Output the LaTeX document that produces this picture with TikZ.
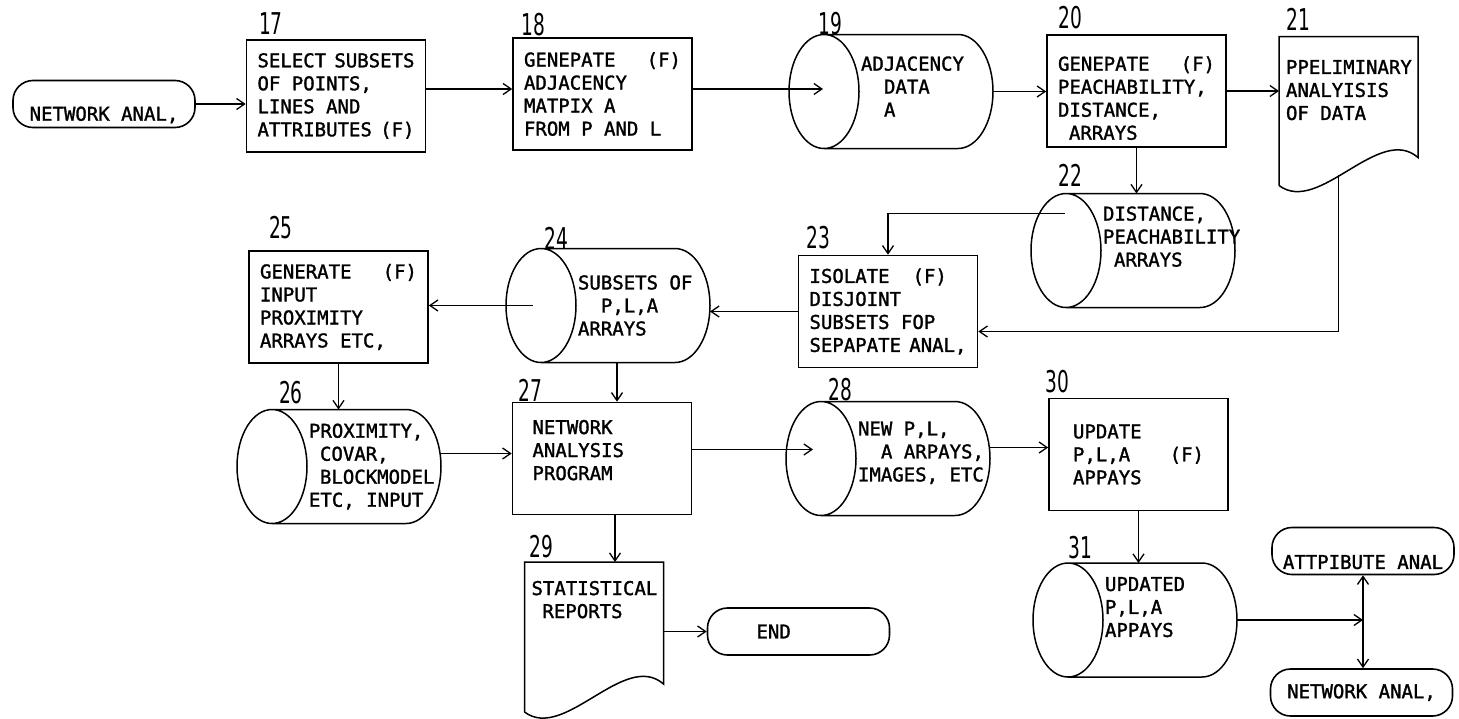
\documentclass[tikz,border=0pt]{standalone}
\usepackage{fontspec}
\usepackage{tikz}
\usetikzlibrary{arrows.meta, positioning, calc}
\newfontfamily\boxfont[FakeBold=1.5]{DejaVu Sans Mono}
\newfontfamily\numfont[FakeStretch=0.62]{DejaVu Sans}
\newcommand{\boxtext}{\boxfont\fontsize{19}{23}\selectfont}
\tikzset{
    proc/.style={draw, line width=1.6pt, minimum width=179pt, minimum height=112pt,
        text width=157pt, inner xsep=11pt, align=left},
    drum/.style={minimum width=134pt, minimum height=114pt, text width=130pt,
        inner xsep=2pt, outer sep=0pt, align=left},
    doc/.style={minimum width=139pt, minimum height=149pt, text width=125pt,
        inner xsep=7pt, outer sep=0pt, align=left},
    term/.style={draw, line width=1.6pt, rounded corners=20pt, minimum width=182pt,
        minimum height=47pt, inner ysep=2pt},
    num/.style={font=\numfont\fontsize{30}{30}\selectfont, inner sep=0pt},
    conn/.style={-{Straight Barb[length=8pt,width=11pt]}, line width=1.3pt}
}

\begin{document}
\begin{tikzpicture}[x=1pt, y=-1pt, line width=1.5pt,
        every node/.style={font=\boxtext, execute at begin node={\spaceskip=0pt\xspaceskip=0pt}}]
  \useasboundingbox (0,0) rectangle (1459,718);

  % top row
  \node[term, text height=36pt] (na1) at (104,104) {NETWORK ANAL,};
  \node[proc] (b17) at (336,96) {SELECT SUBSETS\\OF POINTS,\\LINES AND\\ATTRIBUTES (F)};
  \node[proc] (b18) at (602.5,94) {GENEPATE\hfill(F)\\ADJACENCY\\MATPIX A\\FROM P AND L};
  \node[drum, text depth=56pt] (d19) at (926,91.5) {ADJACENCY\\\hspace*{23pt}DATA\\\hspace*{23pt}A};
  \node[proc, text depth=55pt] (b20) at (1136.5,91) {GENEPATE\hfill(F)\\PEACHABILITY,\\DISTANCE,\\\hspace*{11pt}ARRAYS};
  \node[doc, text depth=88pt] (c21) at (1348.5,111) {PPELIMINARY\\ANALYISIS\\OF DATA};

  % second row
  \node[drum, text depth=74pt] (d22) at (1168,250.5) {DISTANCE,\\PEACHABILITY\\\hspace*{11pt}ARRAYS};
  \node[proc] (b23) at (888,311.5) {ISOLATE\hspace*{23pt}(F)\\DISJOINT\\SUBSETS FOP\\SEPAPATE ANAL,};
  \node[drum] (d24) at (643,305.5) {SUBSETS OF\\\hspace*{23pt}P,L,A\\ARRAYS};
  \node[proc] (b25) at (338.5,307) {GENERATE\hfill(F)\\INPUT\\PROXIMITY\\ARRAYS ETC,};

  % third row
  \node[drum] (d26) at (374,466.5) {PROXIMITY,\\\hspace*{11pt}COVAR,\\\hspace*{11pt}BLOCKMODEL\\ETC, INPUT};
  \node[proc, inner xsep=20pt, text width=139pt, text depth=63pt] (b27) at (602,458.5) {NETWORK\\ANALYSIS\\PROGRAM};
  \node[drum, text depth=60pt] (d28) at (923,458.5) {NEW P,L,\\\hspace*{23pt}A ARPAYS,\\IMAGES, ETC};
  \node[proc, inner xsep=24pt, text width=131pt] (b30) at (1138.5,454.5) {UPDATE\\P,L,A\hfill(F)\\APPAYS};

  % bottom row
  \node[doc, text depth=98pt, minimum height=150pt] (c29) at (594,637) {STATISTICAL\\\hspace*{11pt}REPORTS};
  \node[term, text width=150pt, align=left] (endn) at (798.5,631.5) {\hspace*{33pt}END};
  \node[drum, text depth=72pt] (d31) at (1170,620) {UPDATED\\P,L,A\\APPAYS};
  \node[term, text height=36pt] (att) at (1363,551) {ATTPIBUTE ANAL};
  \node[term] (na2) at (1361.5,692.5) {NETWORK ANAL,};
  \coordinate (jn) at (att.south |- d31.east);

  % step numbers
  \foreach \n/\x/\y in {17/271/24, 18/533/25, 19/830/24, 20/1070/18, 21/1298/19,
      22/1070/175, 23/818/238, 24/556/238, 25/281/228, 26/291/393, 27/530/390,
      28/840/390, 29/541/547, 30/1057/382, 31/1080/548}
    \node[num] (n\n) at (\x,\y) {\n};

  % storage drums
  \foreach \dr in {d19,d22,d24,d26,d28,d31}
    \draw ($(\dr.north west)+(-35pt,0)$) -- ($(\dr.north east)+(-35pt,0)$)
      arc[start angle=90, end angle=-90, x radius=35pt, y radius=57pt]
      -- ($(\dr.south west)+(-35pt,0)$)
      arc[start angle=270, end angle=90, x radius=35pt, y radius=57pt]
      arc[start angle=90, end angle=-90, x radius=35pt, y radius=57pt];

  % printed documents
  \foreach \dc in {c21,c29}
    \draw (\dc.south west) -- (\dc.north west) -- (\dc.north east)
      -- ($(\dc.south east)+(0,28pt)$)
      .. controls +(-39pt,34pt) and +(40pt,-30pt) .. (\dc.south west);

  % flow
  \draw[conn] (na1.east) -- (na1.east -| b17.west);
  \draw[conn] ([yshift=7pt]b17.east) -- ([yshift=5pt]b18.west);
  \draw[conn] ([yshift=5pt]b18.east) -- ($(d19.west)+(-36pt,2.5pt)$);
  \draw[conn] (d19.east) -- (d19.east -| b20.west);
  \draw[conn] (b20.east) -- (b20.east -| c21.west);
  \draw[conn] (b20.south) -- (b20.south |- d22.north);
  \draw[conn] ($(d22.north west)+(-36pt,-20pt)$) -| (b23.north);
  \draw[conn] ($(c21.south)+(-10pt,11pt)$) |- ($(b23.east)+(0,-20pt)$);
  \draw[conn] (b23.west) -- (b23.west -| d24.east);
  \draw[conn] ($(d24.west)+(-43pt,0)$) -- (d24.west -| b25.east);
  \draw[conn] ($(d24.south)+(-26pt,0)$) -- ($(b27.north)+(15pt,0)$);
  \draw[conn] (b25.south) -- (b25.south |- d26.north);
  \draw[conn] ($(d26.east)+(0,13pt)$) -- ($(b27.west)+(0,5pt)$);
  \draw[conn] ($(b27.east)+(0,9pt)$) -- ($(d28.west)+(-43pt,9pt)$);
  \draw[conn] ($(d28.east)+(0,11pt)$) -- ($(b30.west)+(0,7pt)$);
  \draw[conn] ($(b27.south)+(13pt,0)$) -- ($(c29.north)+(21pt,0)$);
  \draw[conn] (c29.east |- endn.west) -- (endn.west);
  \draw[conn] (b30.south) -- (b30.south |- d31.north);
  \draw[conn] (d31.east) -- (jn);
  \draw[conn] (jn) -- (att.south);
  \draw[conn] (jn) -- (jn |- na2.north);
\end{tikzpicture}
\end{document}
